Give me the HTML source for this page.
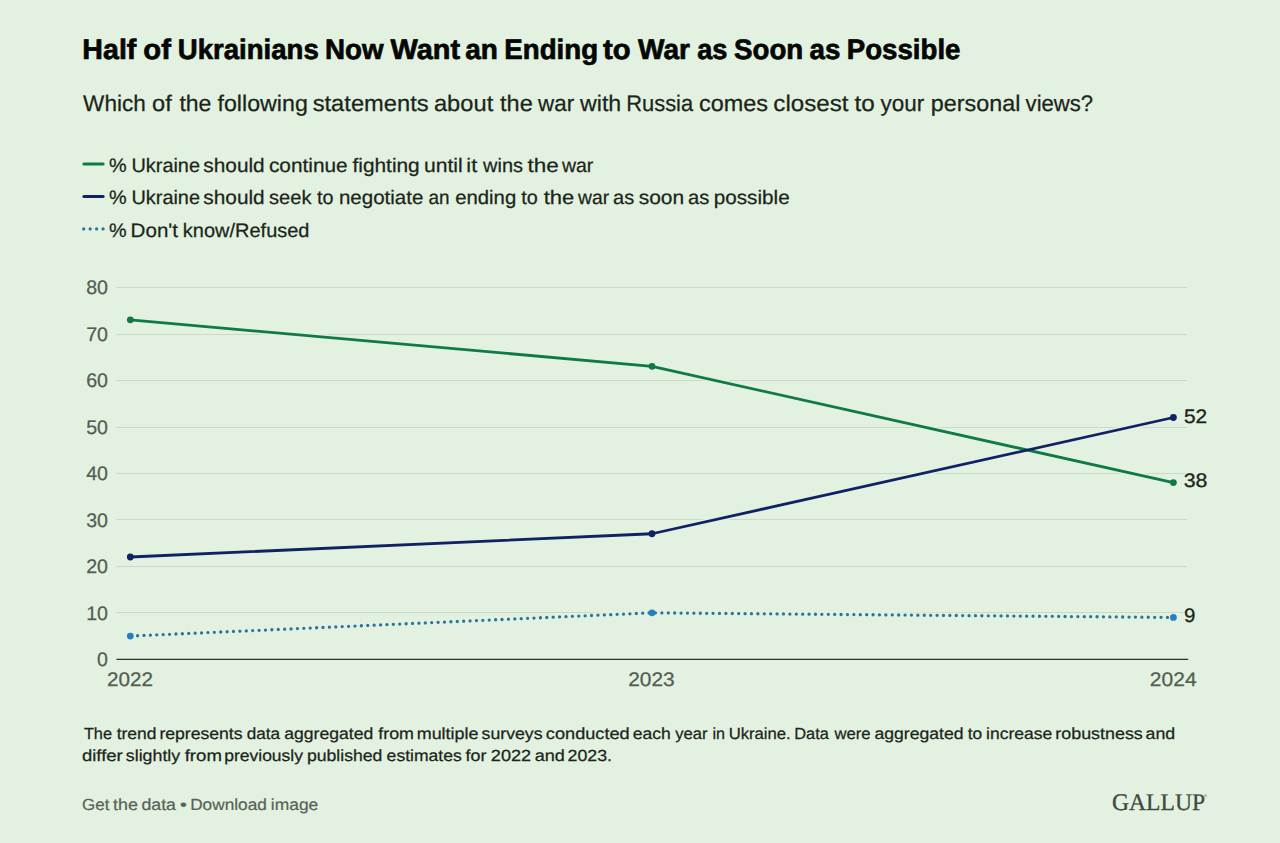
<!DOCTYPE html>
<html><head><meta charset="utf-8"><title>Half of Ukrainians Now Want an Ending to War as Soon as Possible</title>
<style>html,body{margin:0;padding:0;background:#E3F1E0;}body{width:1280px;height:843px;overflow:hidden;font-family:"Liberation Sans",sans-serif;}svg{display:block;}text{text-rendering:geometricPrecision;}</style>
</head><body>
<svg width="1280" height="843" viewBox="0 0 1280 843">
<rect width="1280" height="843" fill="#E3F1E0"/>
<line x1="83.9" y1="164" x2="103.1" y2="164" stroke="#0E7A45" stroke-width="3" stroke-linecap="round"/>
<line x1="83.9" y1="196.6" x2="103.1" y2="196.6" stroke="#0E2264" stroke-width="3" stroke-linecap="round"/>
<line x1="83.7" y1="228.9" x2="104" y2="228.9" stroke="#2874A0" stroke-width="3.3" stroke-dasharray="0 6.45" stroke-linecap="round"/>
<line x1="116.5" y1="612.5" x2="1187" y2="612.5" stroke="#CBD9C8" stroke-width="1"/>
<line x1="116.5" y1="566.5" x2="1187" y2="566.5" stroke="#CBD9C8" stroke-width="1"/>
<line x1="116.5" y1="519.5" x2="1187" y2="519.5" stroke="#CBD9C8" stroke-width="1"/>
<line x1="116.5" y1="473.5" x2="1187" y2="473.5" stroke="#CBD9C8" stroke-width="1"/>
<line x1="116.5" y1="427.5" x2="1187" y2="427.5" stroke="#CBD9C8" stroke-width="1"/>
<line x1="116.5" y1="380.5" x2="1187" y2="380.5" stroke="#CBD9C8" stroke-width="1"/>
<line x1="116.5" y1="334.5" x2="1187" y2="334.5" stroke="#CBD9C8" stroke-width="1"/>
<line x1="116.5" y1="287.5" x2="1187" y2="287.5" stroke="#CBD9C8" stroke-width="1"/>
<line x1="116.5" y1="659.4" x2="1188.2" y2="659.4" stroke="#2B362B" stroke-width="1.4"/>
<text x="108" y="666.10" font-family="Liberation Sans" font-size="19.6" fill="#535D53" stroke="#535D53" stroke-width="0.25" text-anchor="end">0</text>
<text x="108" y="619.60" font-family="Liberation Sans" font-size="19.6" fill="#535D53" stroke="#535D53" stroke-width="0.25" text-anchor="end">10</text>
<text x="108" y="573.10" font-family="Liberation Sans" font-size="19.6" fill="#535D53" stroke="#535D53" stroke-width="0.25" text-anchor="end">20</text>
<text x="108" y="526.60" font-family="Liberation Sans" font-size="19.6" fill="#535D53" stroke="#535D53" stroke-width="0.25" text-anchor="end">30</text>
<text x="108" y="480.10" font-family="Liberation Sans" font-size="19.6" fill="#535D53" stroke="#535D53" stroke-width="0.25" text-anchor="end">40</text>
<text x="108" y="433.60" font-family="Liberation Sans" font-size="19.6" fill="#535D53" stroke="#535D53" stroke-width="0.25" text-anchor="end">50</text>
<text x="108" y="387.10" font-family="Liberation Sans" font-size="19.6" fill="#535D53" stroke="#535D53" stroke-width="0.25" text-anchor="end">60</text>
<text x="108" y="340.60" font-family="Liberation Sans" font-size="19.6" fill="#535D53" stroke="#535D53" stroke-width="0.25" text-anchor="end">70</text>
<text x="108" y="294.10" font-family="Liberation Sans" font-size="19.6" fill="#535D53" stroke="#535D53" stroke-width="0.25" text-anchor="end">80</text>
<text x="107.04" y="685.8" font-family="Liberation Sans" font-size="19.6" fill="#535D53" stroke="#535D53" stroke-width="0.25" textLength="46.08" lengthAdjust="spacingAndGlyphs">2022</text>
<text x="628.23" y="685.8" font-family="Liberation Sans" font-size="19.6" fill="#535D53" stroke="#535D53" stroke-width="0.25" textLength="46.5" lengthAdjust="spacingAndGlyphs">2023</text>
<text x="1149.83" y="685.8" font-family="Liberation Sans" font-size="19.6" fill="#535D53" stroke="#535D53" stroke-width="0.25" textLength="46.81" lengthAdjust="spacingAndGlyphs">2024</text>
<polyline points="130.3,319.85 652.0,366.35 1173.4,482.60" fill="none" stroke="#E3F1E0" stroke-width="5.6" stroke-linejoin="round"/>
<polyline points="130.3,557.00 652.0,533.75 1173.4,417.50" fill="none" stroke="#E3F1E0" stroke-width="5.6" stroke-linejoin="round"/>
<polyline points="130.3,636.05 652.0,612.80 1173.4,617.45" fill="none" stroke="#E3F1E0" stroke-width="5.6" stroke-linejoin="round"/>
<polyline points="130.3,319.85 652.0,366.35 1173.4,482.60" fill="none" stroke="#0E7A45" stroke-width="2.8" stroke-linejoin="round"/>
<polyline points="130.3,557.00 652.0,533.75 1173.4,417.50" fill="none" stroke="#0E2264" stroke-width="2.8" stroke-linejoin="round"/>
<polyline points="130.3,636.05 652.0,612.80 1173.4,617.45" fill="none" stroke="#2874A0" stroke-width="3.3" stroke-dasharray="0 6.4" stroke-dashoffset="-0.9" stroke-linecap="round"/>
<circle cx="130.3" cy="319.85" r="3.4" fill="#0E7A45"/>
<circle cx="652.0" cy="366.35" r="3.4" fill="#0E7A45"/>
<circle cx="1173.4" cy="482.60" r="3.4" fill="#0E7A45"/>
<circle cx="130.3" cy="557.00" r="3.4" fill="#0E2264"/>
<circle cx="652.0" cy="533.75" r="3.4" fill="#0E2264"/>
<circle cx="1173.4" cy="417.50" r="3.4" fill="#0E2264"/>
<circle cx="130.3" cy="636.05" r="3.4" fill="#2680C0"/>
<circle cx="652.0" cy="612.80" r="3.4" fill="#2680C0"/>
<circle cx="1173.4" cy="617.45" r="3.4" fill="#2680C0"/>
<text x="1184.03" y="422.90" font-family="Liberation Sans" font-size="19.6" fill="#E3F1E0" stroke="#E3F1E0" stroke-width="2.6" stroke-linejoin="round" textLength="23.21" lengthAdjust="spacingAndGlyphs">52</text>
<text x="1184.03" y="422.90" font-family="Liberation Sans" font-size="19.6" fill="#1b251b" stroke="#1b251b" stroke-width="0.3" textLength="23.21" lengthAdjust="spacingAndGlyphs">52</text>
<text x="1183.71" y="487.20" font-family="Liberation Sans" font-size="19.6" fill="#E3F1E0" stroke="#E3F1E0" stroke-width="2.6" stroke-linejoin="round" textLength="23.76" lengthAdjust="spacingAndGlyphs">38</text>
<text x="1183.71" y="487.20" font-family="Liberation Sans" font-size="19.6" fill="#1b251b" stroke="#1b251b" stroke-width="0.3" textLength="23.76" lengthAdjust="spacingAndGlyphs">38</text>
<text x="1184.06" y="622.05" font-family="Liberation Sans" font-size="19.6" fill="#E3F1E0" stroke="#E3F1E0" stroke-width="2.6" stroke-linejoin="round" textLength="11.39" lengthAdjust="spacingAndGlyphs">9</text>
<text x="1184.06" y="622.05" font-family="Liberation Sans" font-size="19.6" fill="#1b251b" stroke="#1b251b" stroke-width="0.3" textLength="11.39" lengthAdjust="spacingAndGlyphs">9</text>
<text x="82.38" y="58.6" font-family="Liberation Sans" font-size="28.3" font-weight="bold" fill="#050705" stroke="#050705" stroke-width="0.7" textLength="53.98" lengthAdjust="spacingAndGlyphs">Half</text>
<text x="143.37" y="58.6" font-family="Liberation Sans" font-size="28.3" font-weight="bold" fill="#050705" stroke="#050705" stroke-width="0.7" textLength="27.59" lengthAdjust="spacingAndGlyphs">of</text>
<text x="177.78" y="58.6" font-family="Liberation Sans" font-size="28.3" font-weight="bold" fill="#050705" stroke="#050705" stroke-width="0.7" textLength="141.01" lengthAdjust="spacingAndGlyphs">Ukrainians</text>
<text x="324.94" y="58.6" font-family="Liberation Sans" font-size="28.3" font-weight="bold" fill="#050705" stroke="#050705" stroke-width="0.7" textLength="58.55" lengthAdjust="spacingAndGlyphs">Now</text>
<text x="390.6" y="58.6" font-family="Liberation Sans" font-size="28.3" font-weight="bold" fill="#050705" stroke="#050705" stroke-width="0.7" textLength="69.51" lengthAdjust="spacingAndGlyphs">Want</text>
<text x="465.26" y="58.6" font-family="Liberation Sans" font-size="28.3" font-weight="bold" fill="#050705" stroke="#050705" stroke-width="0.7" textLength="32.66" lengthAdjust="spacingAndGlyphs">an</text>
<text x="504.29" y="58.6" font-family="Liberation Sans" font-size="28.3" font-weight="bold" fill="#050705" stroke="#050705" stroke-width="0.7" textLength="93.81" lengthAdjust="spacingAndGlyphs">Ending</text>
<text x="603.1" y="58.6" font-family="Liberation Sans" font-size="28.3" font-weight="bold" fill="#050705" stroke="#050705" stroke-width="0.7" textLength="27.64" lengthAdjust="spacingAndGlyphs">to</text>
<text x="638.1" y="58.6" font-family="Liberation Sans" font-size="28.3" font-weight="bold" fill="#050705" stroke="#050705" stroke-width="0.7" textLength="51.93" lengthAdjust="spacingAndGlyphs">War</text>
<text x="697.14" y="58.6" font-family="Liberation Sans" font-size="28.3" font-weight="bold" fill="#050705" stroke="#050705" stroke-width="0.7" textLength="30.22" lengthAdjust="spacingAndGlyphs">as</text>
<text x="734.02" y="58.6" font-family="Liberation Sans" font-size="28.3" font-weight="bold" fill="#050705" stroke="#050705" stroke-width="0.7" textLength="69.2" lengthAdjust="spacingAndGlyphs">Soon</text>
<text x="809.62" y="58.6" font-family="Liberation Sans" font-size="28.3" font-weight="bold" fill="#050705" stroke="#050705" stroke-width="0.7" textLength="30.85" lengthAdjust="spacingAndGlyphs">as</text>
<text x="846.8" y="58.6" font-family="Liberation Sans" font-size="28.3" font-weight="bold" fill="#050705" stroke="#050705" stroke-width="0.7" textLength="113.69" lengthAdjust="spacingAndGlyphs">Possible</text>
<text x="83.1" y="110.7" font-family="Liberation Sans" font-size="22.6" fill="#1b251b" stroke="#1b251b" stroke-width="0.25" textLength="62.68" lengthAdjust="spacingAndGlyphs">Which</text>
<text x="152.06" y="110.7" font-family="Liberation Sans" font-size="22.6" fill="#1b251b" stroke="#1b251b" stroke-width="0.25" textLength="19.68" lengthAdjust="spacingAndGlyphs">of</text>
<text x="179.4" y="110.7" font-family="Liberation Sans" font-size="22.6" fill="#1b251b" stroke="#1b251b" stroke-width="0.25" textLength="32.05" lengthAdjust="spacingAndGlyphs">the</text>
<text x="217.5" y="110.7" font-family="Liberation Sans" font-size="22.6" fill="#1b251b" stroke="#1b251b" stroke-width="0.25" textLength="90.35" lengthAdjust="spacingAndGlyphs">following</text>
<text x="312.7" y="110.7" font-family="Liberation Sans" font-size="22.6" fill="#1b251b" stroke="#1b251b" stroke-width="0.25" textLength="115.94" lengthAdjust="spacingAndGlyphs">statements</text>
<text x="433.95" y="110.7" font-family="Liberation Sans" font-size="22.6" fill="#1b251b" stroke="#1b251b" stroke-width="0.25" textLength="59.32" lengthAdjust="spacingAndGlyphs">about</text>
<text x="500.0" y="110.7" font-family="Liberation Sans" font-size="22.6" fill="#1b251b" stroke="#1b251b" stroke-width="0.25" textLength="32.73" lengthAdjust="spacingAndGlyphs">the</text>
<text x="538.1" y="110.7" font-family="Liberation Sans" font-size="22.6" fill="#1b251b" stroke="#1b251b" stroke-width="0.25" textLength="36.05" lengthAdjust="spacingAndGlyphs">war</text>
<text x="580.0" y="110.7" font-family="Liberation Sans" font-size="22.6" fill="#1b251b" stroke="#1b251b" stroke-width="0.25" textLength="41.22" lengthAdjust="spacingAndGlyphs">with</text>
<text x="626.16" y="110.7" font-family="Liberation Sans" font-size="22.6" fill="#1b251b" stroke="#1b251b" stroke-width="0.25" textLength="67.0" lengthAdjust="spacingAndGlyphs">Russia</text>
<text x="698.96" y="110.7" font-family="Liberation Sans" font-size="22.6" fill="#1b251b" stroke="#1b251b" stroke-width="0.25" textLength="69.11" lengthAdjust="spacingAndGlyphs">comes</text>
<text x="773.33" y="110.7" font-family="Liberation Sans" font-size="22.6" fill="#1b251b" stroke="#1b251b" stroke-width="0.25" textLength="75.12" lengthAdjust="spacingAndGlyphs">closest</text>
<text x="854.4" y="110.7" font-family="Liberation Sans" font-size="22.6" fill="#1b251b" stroke="#1b251b" stroke-width="0.25" textLength="20.26" lengthAdjust="spacingAndGlyphs">to</text>
<text x="880.6" y="110.7" font-family="Liberation Sans" font-size="22.6" fill="#1b251b" stroke="#1b251b" stroke-width="0.25" textLength="43.75" lengthAdjust="spacingAndGlyphs">your</text>
<text x="930.87" y="110.7" font-family="Liberation Sans" font-size="22.6" fill="#1b251b" stroke="#1b251b" stroke-width="0.25" textLength="89.61" lengthAdjust="spacingAndGlyphs">personal</text>
<text x="1025.6" y="110.7" font-family="Liberation Sans" font-size="22.6" fill="#1b251b" stroke="#1b251b" stroke-width="0.25" textLength="67.54" lengthAdjust="spacingAndGlyphs">views?</text>
<text x="108.98" y="171.6" font-family="Liberation Sans" font-size="19.5" fill="#1b251b" stroke="#1b251b" stroke-width="0.25" textLength="17.61" lengthAdjust="spacingAndGlyphs">%</text>
<text x="131.48" y="171.6" font-family="Liberation Sans" font-size="19.5" fill="#1b251b" stroke="#1b251b" stroke-width="0.25" textLength="68.5" lengthAdjust="spacingAndGlyphs">Ukraine</text>
<text x="203.33" y="171.6" font-family="Liberation Sans" font-size="19.5" fill="#1b251b" stroke="#1b251b" stroke-width="0.25" textLength="61.33" lengthAdjust="spacingAndGlyphs">should</text>
<text x="268.93" y="171.6" font-family="Liberation Sans" font-size="19.5" fill="#1b251b" stroke="#1b251b" stroke-width="0.25" textLength="78.75" lengthAdjust="spacingAndGlyphs">continue</text>
<text x="352.5" y="171.6" font-family="Liberation Sans" font-size="19.5" fill="#1b251b" stroke="#1b251b" stroke-width="0.25" textLength="67.2" lengthAdjust="spacingAndGlyphs">fighting</text>
<text x="423.91" y="171.6" font-family="Liberation Sans" font-size="19.5" fill="#1b251b" stroke="#1b251b" stroke-width="0.25" textLength="38.83" lengthAdjust="spacingAndGlyphs">until</text>
<text x="466.39" y="171.6" font-family="Liberation Sans" font-size="19.5" fill="#1b251b" stroke="#1b251b" stroke-width="0.25" textLength="10.83" lengthAdjust="spacingAndGlyphs">it</text>
<text x="483.1" y="171.6" font-family="Liberation Sans" font-size="19.5" fill="#1b251b" stroke="#1b251b" stroke-width="0.25" textLength="39.84" lengthAdjust="spacingAndGlyphs">wins</text>
<text x="527.5" y="171.6" font-family="Liberation Sans" font-size="19.5" fill="#1b251b" stroke="#1b251b" stroke-width="0.25" textLength="31.28" lengthAdjust="spacingAndGlyphs">the</text>
<text x="561.9" y="171.6" font-family="Liberation Sans" font-size="19.5" fill="#1b251b" stroke="#1b251b" stroke-width="0.25" textLength="31.32" lengthAdjust="spacingAndGlyphs">war</text>
<text x="108.98" y="204" font-family="Liberation Sans" font-size="19.5" fill="#1b251b" stroke="#1b251b" stroke-width="0.25" textLength="17.61" lengthAdjust="spacingAndGlyphs">%</text>
<text x="131.48" y="204" font-family="Liberation Sans" font-size="19.5" fill="#1b251b" stroke="#1b251b" stroke-width="0.25" textLength="68.5" lengthAdjust="spacingAndGlyphs">Ukraine</text>
<text x="203.33" y="204" font-family="Liberation Sans" font-size="19.5" fill="#1b251b" stroke="#1b251b" stroke-width="0.25" textLength="61.33" lengthAdjust="spacingAndGlyphs">should</text>
<text x="268.97" y="204" font-family="Liberation Sans" font-size="19.5" fill="#1b251b" stroke="#1b251b" stroke-width="0.25" textLength="42.49" lengthAdjust="spacingAndGlyphs">seek</text>
<text x="316.9" y="204" font-family="Liberation Sans" font-size="19.5" fill="#1b251b" stroke="#1b251b" stroke-width="0.25" textLength="16.47" lengthAdjust="spacingAndGlyphs">to</text>
<text x="338.95" y="204" font-family="Liberation Sans" font-size="19.5" fill="#1b251b" stroke="#1b251b" stroke-width="0.25" textLength="84.41" lengthAdjust="spacingAndGlyphs">negotiate</text>
<text x="428.43" y="204" font-family="Liberation Sans" font-size="19.5" fill="#1b251b" stroke="#1b251b" stroke-width="0.25" textLength="21.0" lengthAdjust="spacingAndGlyphs">an</text>
<text x="455.21" y="204" font-family="Liberation Sans" font-size="19.5" fill="#1b251b" stroke="#1b251b" stroke-width="0.25" textLength="60.98" lengthAdjust="spacingAndGlyphs">ending</text>
<text x="521.25" y="204" font-family="Liberation Sans" font-size="19.5" fill="#1b251b" stroke="#1b251b" stroke-width="0.25" textLength="16.52" lengthAdjust="spacingAndGlyphs">to</text>
<text x="543.75" y="204" font-family="Liberation Sans" font-size="19.5" fill="#1b251b" stroke="#1b251b" stroke-width="0.25" textLength="30.6" lengthAdjust="spacingAndGlyphs">the</text>
<text x="578.1" y="204" font-family="Liberation Sans" font-size="19.5" fill="#1b251b" stroke="#1b251b" stroke-width="0.25" textLength="31.07" lengthAdjust="spacingAndGlyphs">war</text>
<text x="613.07" y="204" font-family="Liberation Sans" font-size="19.5" fill="#1b251b" stroke="#1b251b" stroke-width="0.25" textLength="21.15" lengthAdjust="spacingAndGlyphs">as</text>
<text x="638.72" y="204" font-family="Liberation Sans" font-size="19.5" fill="#1b251b" stroke="#1b251b" stroke-width="0.25" textLength="45.47" lengthAdjust="spacingAndGlyphs">soon</text>
<text x="687.97" y="204" font-family="Liberation Sans" font-size="19.5" fill="#1b251b" stroke="#1b251b" stroke-width="0.25" textLength="21.26" lengthAdjust="spacingAndGlyphs">as</text>
<text x="713.74" y="204" font-family="Liberation Sans" font-size="19.5" fill="#1b251b" stroke="#1b251b" stroke-width="0.25" textLength="75.94" lengthAdjust="spacingAndGlyphs">possible</text>
<text x="108.98" y="236.6" font-family="Liberation Sans" font-size="19.5" fill="#1b251b" stroke="#1b251b" stroke-width="0.25" textLength="17.61" lengthAdjust="spacingAndGlyphs">%</text>
<text x="130.59" y="236.6" font-family="Liberation Sans" font-size="19.5" fill="#1b251b" stroke="#1b251b" stroke-width="0.25" textLength="47.43" lengthAdjust="spacingAndGlyphs">Don't</text>
<text x="182.88" y="236.6" font-family="Liberation Sans" font-size="19.5" fill="#1b251b" stroke="#1b251b" stroke-width="0.25" textLength="126.62" lengthAdjust="spacingAndGlyphs">know/Refused</text>
<text x="83.9" y="739.3" font-family="Liberation Sans" font-size="16.1" fill="#1b251b" stroke="#1b251b" stroke-width="0.25" textLength="28.09" lengthAdjust="spacingAndGlyphs">The</text>
<text x="116.7" y="739.3" font-family="Liberation Sans" font-size="16.1" fill="#1b251b" stroke="#1b251b" stroke-width="0.25" textLength="39.85" lengthAdjust="spacingAndGlyphs">trend</text>
<text x="159.41" y="739.3" font-family="Liberation Sans" font-size="16.1" fill="#1b251b" stroke="#1b251b" stroke-width="0.25" textLength="83.14" lengthAdjust="spacingAndGlyphs">represents</text>
<text x="246.73" y="739.3" font-family="Liberation Sans" font-size="16.1" fill="#1b251b" stroke="#1b251b" stroke-width="0.25" textLength="33.42" lengthAdjust="spacingAndGlyphs">data</text>
<text x="284.21" y="739.3" font-family="Liberation Sans" font-size="16.1" fill="#1b251b" stroke="#1b251b" stroke-width="0.25" textLength="89.07" lengthAdjust="spacingAndGlyphs">aggregated</text>
<text x="378.3" y="739.3" font-family="Liberation Sans" font-size="16.1" fill="#1b251b" stroke="#1b251b" stroke-width="0.25" textLength="35.67" lengthAdjust="spacingAndGlyphs">from</text>
<text x="416.69" y="739.3" font-family="Liberation Sans" font-size="16.1" fill="#1b251b" stroke="#1b251b" stroke-width="0.25" textLength="61.84" lengthAdjust="spacingAndGlyphs">multiple</text>
<text x="481.6" y="739.3" font-family="Liberation Sans" font-size="16.1" fill="#1b251b" stroke="#1b251b" stroke-width="0.25" textLength="60.9" lengthAdjust="spacingAndGlyphs">surveys</text>
<text x="545.87" y="739.3" font-family="Liberation Sans" font-size="16.1" fill="#1b251b" stroke="#1b251b" stroke-width="0.25" textLength="83.88" lengthAdjust="spacingAndGlyphs">conducted</text>
<text x="632.66" y="739.3" font-family="Liberation Sans" font-size="16.1" fill="#1b251b" stroke="#1b251b" stroke-width="0.25" textLength="38.03" lengthAdjust="spacingAndGlyphs">each</text>
<text x="675.2" y="739.3" font-family="Liberation Sans" font-size="16.1" fill="#1b251b" stroke="#1b251b" stroke-width="0.25" textLength="32.32" lengthAdjust="spacingAndGlyphs">year</text>
<text x="712.4" y="739.3" font-family="Liberation Sans" font-size="16.1" fill="#1b251b" stroke="#1b251b" stroke-width="0.25" textLength="12.53" lengthAdjust="spacingAndGlyphs">in</text>
<text x="728.66" y="739.3" font-family="Liberation Sans" font-size="16.1" fill="#1b251b" stroke="#1b251b" stroke-width="0.25" textLength="62.11" lengthAdjust="spacingAndGlyphs">Ukraine.</text>
<text x="794.28" y="739.3" font-family="Liberation Sans" font-size="16.1" fill="#1b251b" stroke="#1b251b" stroke-width="0.25" textLength="34.62" lengthAdjust="spacingAndGlyphs">Data</text>
<text x="834.4" y="739.3" font-family="Liberation Sans" font-size="16.1" fill="#1b251b" stroke="#1b251b" stroke-width="0.25" textLength="36.02" lengthAdjust="spacingAndGlyphs">were</text>
<text x="874.41" y="739.3" font-family="Liberation Sans" font-size="16.1" fill="#1b251b" stroke="#1b251b" stroke-width="0.25" textLength="89.07" lengthAdjust="spacingAndGlyphs">aggregated</text>
<text x="967.7" y="739.3" font-family="Liberation Sans" font-size="16.1" fill="#1b251b" stroke="#1b251b" stroke-width="0.25" textLength="14.47" lengthAdjust="spacingAndGlyphs">to</text>
<text x="986.11" y="739.3" font-family="Liberation Sans" font-size="16.1" fill="#1b251b" stroke="#1b251b" stroke-width="0.25" textLength="66.05" lengthAdjust="spacingAndGlyphs">increase</text>
<text x="1055.29" y="739.3" font-family="Liberation Sans" font-size="16.1" fill="#1b251b" stroke="#1b251b" stroke-width="0.25" textLength="87.53" lengthAdjust="spacingAndGlyphs">robustness</text>
<text x="1145.5" y="739.3" font-family="Liberation Sans" font-size="16.1" fill="#1b251b" stroke="#1b251b" stroke-width="0.25" textLength="29.65" lengthAdjust="spacingAndGlyphs">and</text>
<text x="81.95" y="760.7" font-family="Liberation Sans" font-size="16.1" fill="#1b251b" stroke="#1b251b" stroke-width="0.25" textLength="40.83" lengthAdjust="spacingAndGlyphs">differ</text>
<text x="125.79" y="760.7" font-family="Liberation Sans" font-size="16.1" fill="#1b251b" stroke="#1b251b" stroke-width="0.25" textLength="54.43" lengthAdjust="spacingAndGlyphs">slightly</text>
<text x="184.7" y="760.7" font-family="Liberation Sans" font-size="16.1" fill="#1b251b" stroke="#1b251b" stroke-width="0.25" textLength="37.28" lengthAdjust="spacingAndGlyphs">from</text>
<text x="224.21" y="760.7" font-family="Liberation Sans" font-size="16.1" fill="#1b251b" stroke="#1b251b" stroke-width="0.25" textLength="78.8" lengthAdjust="spacingAndGlyphs">previously</text>
<text x="306.9" y="760.7" font-family="Liberation Sans" font-size="16.1" fill="#1b251b" stroke="#1b251b" stroke-width="0.25" textLength="75.49" lengthAdjust="spacingAndGlyphs">published</text>
<text x="386.61" y="760.7" font-family="Liberation Sans" font-size="16.1" fill="#1b251b" stroke="#1b251b" stroke-width="0.25" textLength="75.15" lengthAdjust="spacingAndGlyphs">estimates</text>
<text x="465.5" y="760.7" font-family="Liberation Sans" font-size="16.1" fill="#1b251b" stroke="#1b251b" stroke-width="0.25" textLength="20.87" lengthAdjust="spacingAndGlyphs">for</text>
<text x="490.87" y="760.7" font-family="Liberation Sans" font-size="16.1" fill="#1b251b" stroke="#1b251b" stroke-width="0.25" textLength="40.34" lengthAdjust="spacingAndGlyphs">2022</text>
<text x="534.68" y="760.7" font-family="Liberation Sans" font-size="16.1" fill="#1b251b" stroke="#1b251b" stroke-width="0.25" textLength="30.19" lengthAdjust="spacingAndGlyphs">and</text>
<text x="567.49" y="760.7" font-family="Liberation Sans" font-size="16.1" fill="#1b251b" stroke="#1b251b" stroke-width="0.25" textLength="44.52" lengthAdjust="spacingAndGlyphs">2023.</text>
<text x="82.05" y="809.7" font-family="Liberation Sans" font-size="16.1" fill="#576257" stroke="#576257" stroke-width="0.2" textLength="27.3" lengthAdjust="spacingAndGlyphs">Get</text>
<text x="113.1" y="809.7" font-family="Liberation Sans" font-size="16.1" fill="#576257" stroke="#576257" stroke-width="0.2" textLength="24.82" lengthAdjust="spacingAndGlyphs">the</text>
<text x="141.4" y="809.7" font-family="Liberation Sans" font-size="16.1" fill="#576257" stroke="#576257" stroke-width="0.2" textLength="34.57" lengthAdjust="spacingAndGlyphs">data</text>
<text x="180.04" y="809.7" font-family="Liberation Sans" font-size="16.1" fill="#576257" stroke="#576257" stroke-width="0.2" textLength="6.84" lengthAdjust="spacingAndGlyphs">&#8226;</text>
<text x="190.18" y="809.7" font-family="Liberation Sans" font-size="16.1" fill="#576257" stroke="#576257" stroke-width="0.2" textLength="76.69" lengthAdjust="spacingAndGlyphs">Download</text>
<text x="270.82" y="809.7" font-family="Liberation Sans" font-size="16.1" fill="#576257" stroke="#576257" stroke-width="0.2" textLength="47.5" lengthAdjust="spacingAndGlyphs">image</text>
<text x="1112.0" y="810" font-family="Liberation Serif" font-size="23.8" fill="#3F483F" stroke="#3F483F" stroke-width="0.3" textLength="93.06" lengthAdjust="spacingAndGlyphs">GALLUP</text>
<text x="1204" y="797" font-family="Liberation Sans" font-size="4" fill="#3F483F">&#174;</text>
</svg>
</body></html>
